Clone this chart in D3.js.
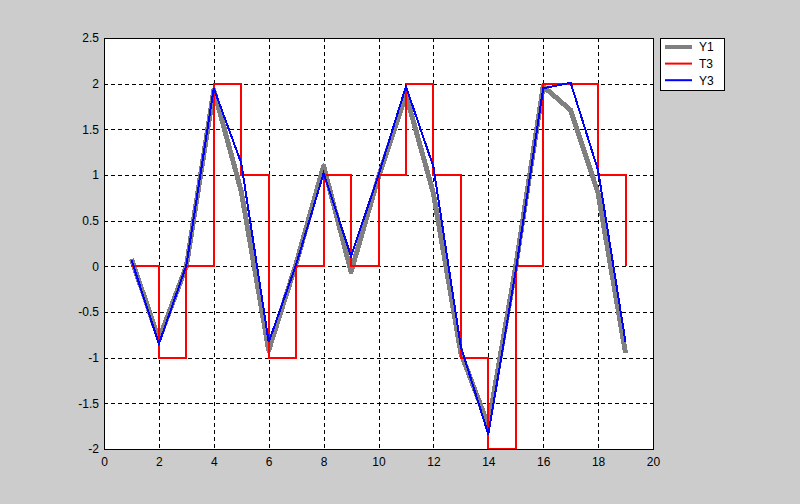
<!DOCTYPE html>
<html><head><meta charset="utf-8">
<script src="https://cdn.jsdelivr.net/npm/d3@7"></script>
<style>body{margin:0;background:#cccccc;}svg{display:block;}</style>
</head><body>
<svg id="c" width="800" height="504"></svg>
<script>
const xs = [1,2,3,4,5,6,7,8,9,10,11,12,13,14,15,16,17,18,19];
const Y1 = [0.08,-0.80,0.00,1.93,0.82,-0.92,0.03,1.10,-0.06,0.98,1.88,0.80,-0.95,-1.74,0.00,1.97,1.71,0.80,-0.95];
const T3 = [0,-1,0,2,1,-1,0,1,0,1,2,1,-1,-2,0,2,2,1,0];
const Y3 = [0.07,-0.85,0.01,1.95,1.13,-0.83,0.02,1.02,0.11,1.00,1.97,1.09,-0.88,-1.84,-0.05,1.95,2.01,1.05,-0.83];
const xTicks = [0,2,4,6,8,10,12,14,16,18,20];
const yTicks = [-2,-1.5,-1,-0.5,0,0.5,1,1.5,2,2.5];
const seriesNames = ["Y1","T3","Y3"];

const L=104, R=653, T=38, B=449;
const svg = d3.select("#c");
svg.append("rect").attr("width",800).attr("height",504).attr("fill","#cccccc");
const x = d3.scaleLinear().domain([0,20]).range([L,R]);
const y = d3.scaleLinear().domain([-2,2.5]).range([B,T]);
svg.append("rect").attr("x",L).attr("y",T).attr("width",R-L).attr("height",B-T).attr("fill","#fff");

const font = "Liberation Sans, Arial, sans-serif";
// grid
const g = svg.append("g").attr("shape-rendering","crispEdges");
g.selectAll("line.gx").data(xTicks.slice(1,-1)).enter().append("line")
  .attr("x1",d=>Math.round(x(d))+0.5).attr("x2",d=>Math.round(x(d))+0.5).attr("y1",T).attr("y2",B)
  .attr("stroke","#000").attr("stroke-width",1).attr("stroke-dasharray","4,3");
g.selectAll("line.gy").data(yTicks.slice(1,-1)).enter().append("line")
  .attr("y1",d=>Math.round(y(d))+0.5).attr("y2",d=>Math.round(y(d))+0.5).attr("x1",L).attr("x2",R)
  .attr("stroke","#000").attr("stroke-width",1).attr("stroke-dasharray","4,3");

// axes via d3 (labels only, no tick marks as in reference)
const xAxis = svg.append("g").attr("transform",`translate(0,${B})`)
  .call(d3.axisBottom(x).tickValues(xTicks).tickSize(0).tickPadding(8).tickFormat(d3.format("d")));
const yAxis = svg.append("g").attr("transform",`translate(${L},0)`)
  .call(d3.axisLeft(y).tickValues(yTicks).tickSize(0).tickPadding(5).tickFormat(d=>String(d)));
[xAxis,yAxis].forEach(a=>{
  a.select(".domain").remove();
  a.selectAll("line").remove();
  a.selectAll("text").attr("font-family",font).attr("font-size",12).attr("fill","#000");
});
xAxis.selectAll("text").attr("dy","0.71em");

// series
const pts = a => xs.map((v,i)=>[v,a[i]]);
svg.append("path").datum(pts(Y1)).attr("d",d3.line().x(d=>x(d[0])).y(d=>y(d[1])))
  .attr("fill","none").attr("stroke","#808080").attr("stroke-width",5).attr("stroke-linejoin","round")
  .attr("shape-rendering","crispEdges");
svg.append("path").datum(pts(T3)).attr("d",d3.line().curve(d3.curveStepAfter).x(d=>Math.round(x(d[0]))).y(d=>Math.round(y(d[1]))))
  .attr("fill","none").attr("stroke","#ff0000").attr("stroke-width",2).attr("shape-rendering","crispEdges");
svg.append("path").datum(pts(Y3)).attr("d",d3.line().x(d=>x(d[0])).y(d=>y(d[1])))
  .attr("fill","none").attr("stroke","#0000ff").attr("stroke-width",2).attr("shape-rendering","crispEdges");

// axes box
svg.append("rect").attr("x",L+0.5).attr("y",T+0.5).attr("width",R-L).attr("height",B-T)
  .attr("fill","none").attr("stroke","#000").attr("stroke-width",1).attr("shape-rendering","crispEdges");

// legend
const lg = svg.append("g");
lg.append("rect").attr("x",660.5).attr("y",38.5).attr("width",64).attr("height",52)
  .attr("fill","#fff").attr("stroke","#000").attr("stroke-width",1).attr("shape-rendering","crispEdges");
const legCols = ["#808080","#ff0000","#0000ff"], legW=[4,2,2];
seriesNames.forEach((n,i)=>{
  const yy = 47 + i*16.6;
  lg.append("line").attr("x1",665).attr("x2",692).attr("y1",yy).attr("y2",yy)
    .attr("stroke",legCols[i]).attr("stroke-width",legW[i]);
  lg.append("text").attr("x",699).attr("y",yy).attr("dy","0.36em").text(n)
    .attr("font-family",font).attr("font-size",12).attr("fill","#000");
});
</script>
</body></html>
